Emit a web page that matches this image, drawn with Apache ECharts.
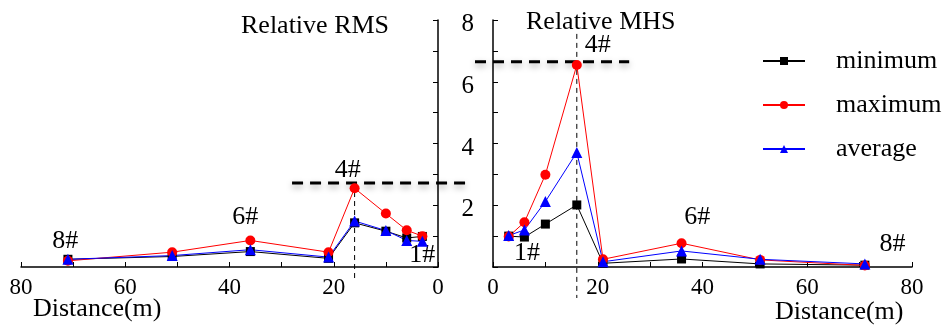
<!DOCTYPE html>
<html>
<head>
<meta charset="utf-8">
<script src="https://cdn.jsdelivr.net/npm/echarts@6/dist/echarts.min.js"></script>
<style>
  html, body { margin: 0; padding: 0; background: #fff; }
  #chart { width: 948px; height: 331px; }
</style>
</head>
<body>
<div id="chart"></div>
<script>
// distances of the measuring points (m)
const distance = [3, 6, 10, 16, 21, 36, 51, 71];

// Relative RMS (left panel)
const rmsMin = [0.99, 0.94, 1.16, 1.43, 0.28, 0.50, 0.34, 0.25];
const rmsMax = [1.00, 1.19, 1.73, 2.55, 0.48, 0.86, 0.48, 0.20];
const rmsAvg = [0.83, 0.86, 1.18, 1.49, 0.32, 0.56, 0.37, 0.25];

// Relative MHS (right panel)
const mhsMin = [1.00, 0.97, 1.39, 2.01, 0.12, 0.26, 0.10, 0.06];
const mhsMax = [0.99, 1.45, 2.99, 6.54, 0.25, 0.77, 0.23, 0.05];
const mhsAvg = [1.02, 1.20, 2.12, 3.71, 0.17, 0.52, 0.25, 0.10];

const yTicks = [2, 4, 6, 8];

// station labels: [text, distance, value]
const rmsStations = [["8#", 71.5, 0.85], ["6#", 37, 1.6], ["4#", 17.3, 3.15], ["1#", 3, 0.38]];
const mhsStations = [["4#", 20, 7.2], ["1#", 6.5, 0.45], ["6#", 39, 1.6], ["8#", 76.3, 0.75]];

// threshold lines
const rmsLevel = 2.72;
const mhsLevel = 6.65;
const peakDistance = 16;

const font = "Liberation Serif";

const pairs = (ys) => distance.map((d, i) => [d, ys[i]]);

const styles = {
  minimum: { color: "#000", symbol: "rect", size: 9 },
  maximum: { color: "#ff0000", symbol: "circle", size: 10 },
  average: { color: "#0000ff", symbol: "triangle", size: 11 }
};

function makeSeries(name, ys, idx) {
  const s = styles[name];
  return {
    name: name,
    type: "line",
    xAxisIndex: idx,
    yAxisIndex: idx,
    data: pairs(ys),
    symbol: s.symbol,
    symbolSize: s.size,
    color: s.color,
    lineStyle: { width: 1, color: s.color },
    itemStyle: { color: s.color },
    animation: false
  };
}

const xAxisBase = {
  type: "value",
  min: 0,
  max: 80,
  interval: 20,
  axisLine: { lineStyle: { color: "#000", width: 1.5 } },
  axisTick: { inside: true, length: 5, lineStyle: { color: "#000" } },
  minorTick: { show: true, splitNumber: 2, length: 5, lineStyle: { color: "#000" } },
  splitLine: { show: false },
  axisLabel: { color: "#000", fontFamily: font, fontSize: 23, margin: 9 }
};

const yAxisBase = {
  type: "value",
  min: 0,
  max: 8,
  interval: 1,
  axisLine: { show: true, lineStyle: { color: "#000", width: 1.5 } },
  axisTick: { inside: true, length: 5, lineStyle: { color: "#000" } },
  splitLine: { show: false }
};

const chart = echarts.init(document.getElementById("chart"));

const bigText = { fontFamily: font, fontSize: 26, fontWeight: "normal", color: "#000" };

chart.setOption({
  backgroundColor: "#fff",
  animation: false,
  title: [
    { text: "Relative RMS", left: 236, top: 8, textStyle: bigText },
    { text: "Relative MHS", left: 521, top: 4, textStyle: bigText }
  ],
  legend: {
    orient: "vertical",
    left: 757,
    top: 43,
    itemWidth: 42,
    itemHeight: 10,
    itemGap: 18,
    data: ["minimum", "maximum", "average"],
    textStyle: Object.assign({}, bigText, { lineHeight: 26, padding: [0, 0, 0, 26] })
  },
  grid: [
    { left: 21, right: 510, top: 20, bottom: 64 },
    { left: 493, right: 36, top: 20, bottom: 64 }
  ],
  xAxis: [
    Object.assign({}, xAxisBase, { gridIndex: 0, inverse: true }),
    Object.assign({}, xAxisBase, { gridIndex: 1 })
  ],
  yAxis: [
    Object.assign({}, yAxisBase, { gridIndex: 0, position: "right", axisLabel: { show: false } }),
    Object.assign({}, yAxisBase, {
      gridIndex: 1,
      position: "left",
      axisLabel: {
        color: "#000", fontFamily: font, fontSize: 25, margin: 19,
        verticalAlign: "top", lineHeight: 9,
        formatter: (v) => (yTicks.indexOf(v) >= 0 ? String(v) : "")
      }
    })
  ],
  series: [
    makeSeries("minimum", rmsMin, 0),
    makeSeries("maximum", rmsMax, 0),
    makeSeries("average", rmsAvg, 0),
    makeSeries("minimum", mhsMin, 1),
    makeSeries("maximum", mhsMax, 1),
    makeSeries("average", mhsAvg, 1)
  ]
});

// annotations placed through the axes' own scales
function px(grid, x, y) {
  return chart.convertToPixel({ xAxisIndex: grid, yAxisIndex: grid }, [x, y]);
}

const graphics = [];
const textStyle = { fontFamily: font, fontSize: 26, fill: "#000" };

function stationTexts(list, grid) {
  list.forEach(([t, x, y]) => {
    const p = px(grid, x, y);
    graphics.push({ type: "text", x: p[0], y: p[1], style: Object.assign({ text: t, align: "center", verticalAlign: "middle" }, textStyle) });
  });
}
stationTexts(rmsStations, 0);
stationTexts(mhsStations, 1);

const shadow = { shadowBlur: 6, shadowColor: "rgba(0,0,0,0.35)", shadowOffsetY: 3 };

// left threshold line, running past the axis
const l0 = px(0, 28, rmsLevel);
const l1 = px(0, 0, rmsLevel);
graphics.push({ type: "line", shape: { x1: l0[0], y1: l0[1], x2: l1[0] + 33, y2: l1[1] },
  style: Object.assign({ stroke: "#000", lineWidth: 3, lineDash: [11, 7] }, shadow) });

// right threshold line
const r0 = px(1, 0, mhsLevel);
const r1 = px(1, 26, mhsLevel);
graphics.push({ type: "line", shape: { x1: r0[0] - 18, y1: r0[1], x2: r1[0], y2: r1[1] },
  style: Object.assign({ stroke: "#000", lineWidth: 3, lineDash: [11, 7] }, shadow) });

// vertical dashed lines at the peak station
const v0 = px(0, peakDistance, rmsLevel);
const v1 = px(0, peakDistance, 0);
graphics.push({ type: "line", shape: { x1: v0[0], y1: v0[1], x2: v1[0], y2: v1[1] + 13 },
  style: { stroke: "#000", lineWidth: 1, lineDash: [5, 4] } });
const w0 = px(1, peakDistance, 7.55);
const w1 = px(1, peakDistance, 0);
graphics.push({ type: "line", shape: { x1: w0[0], y1: w0[1], x2: w1[0], y2: w1[1] + 31 },
  style: { stroke: "#000", lineWidth: 1, lineDash: [5, 4] } });

// axis names
graphics.push({ type: "text", left: 33, top: 296, style: Object.assign({ text: "Distance(m)" }, textStyle) });
graphics.push({ type: "text", left: 775, top: 299, style: Object.assign({ text: "Distance(m)" }, textStyle) });

chart.setOption({ graphic: graphics });
</script>
</body>
</html>
